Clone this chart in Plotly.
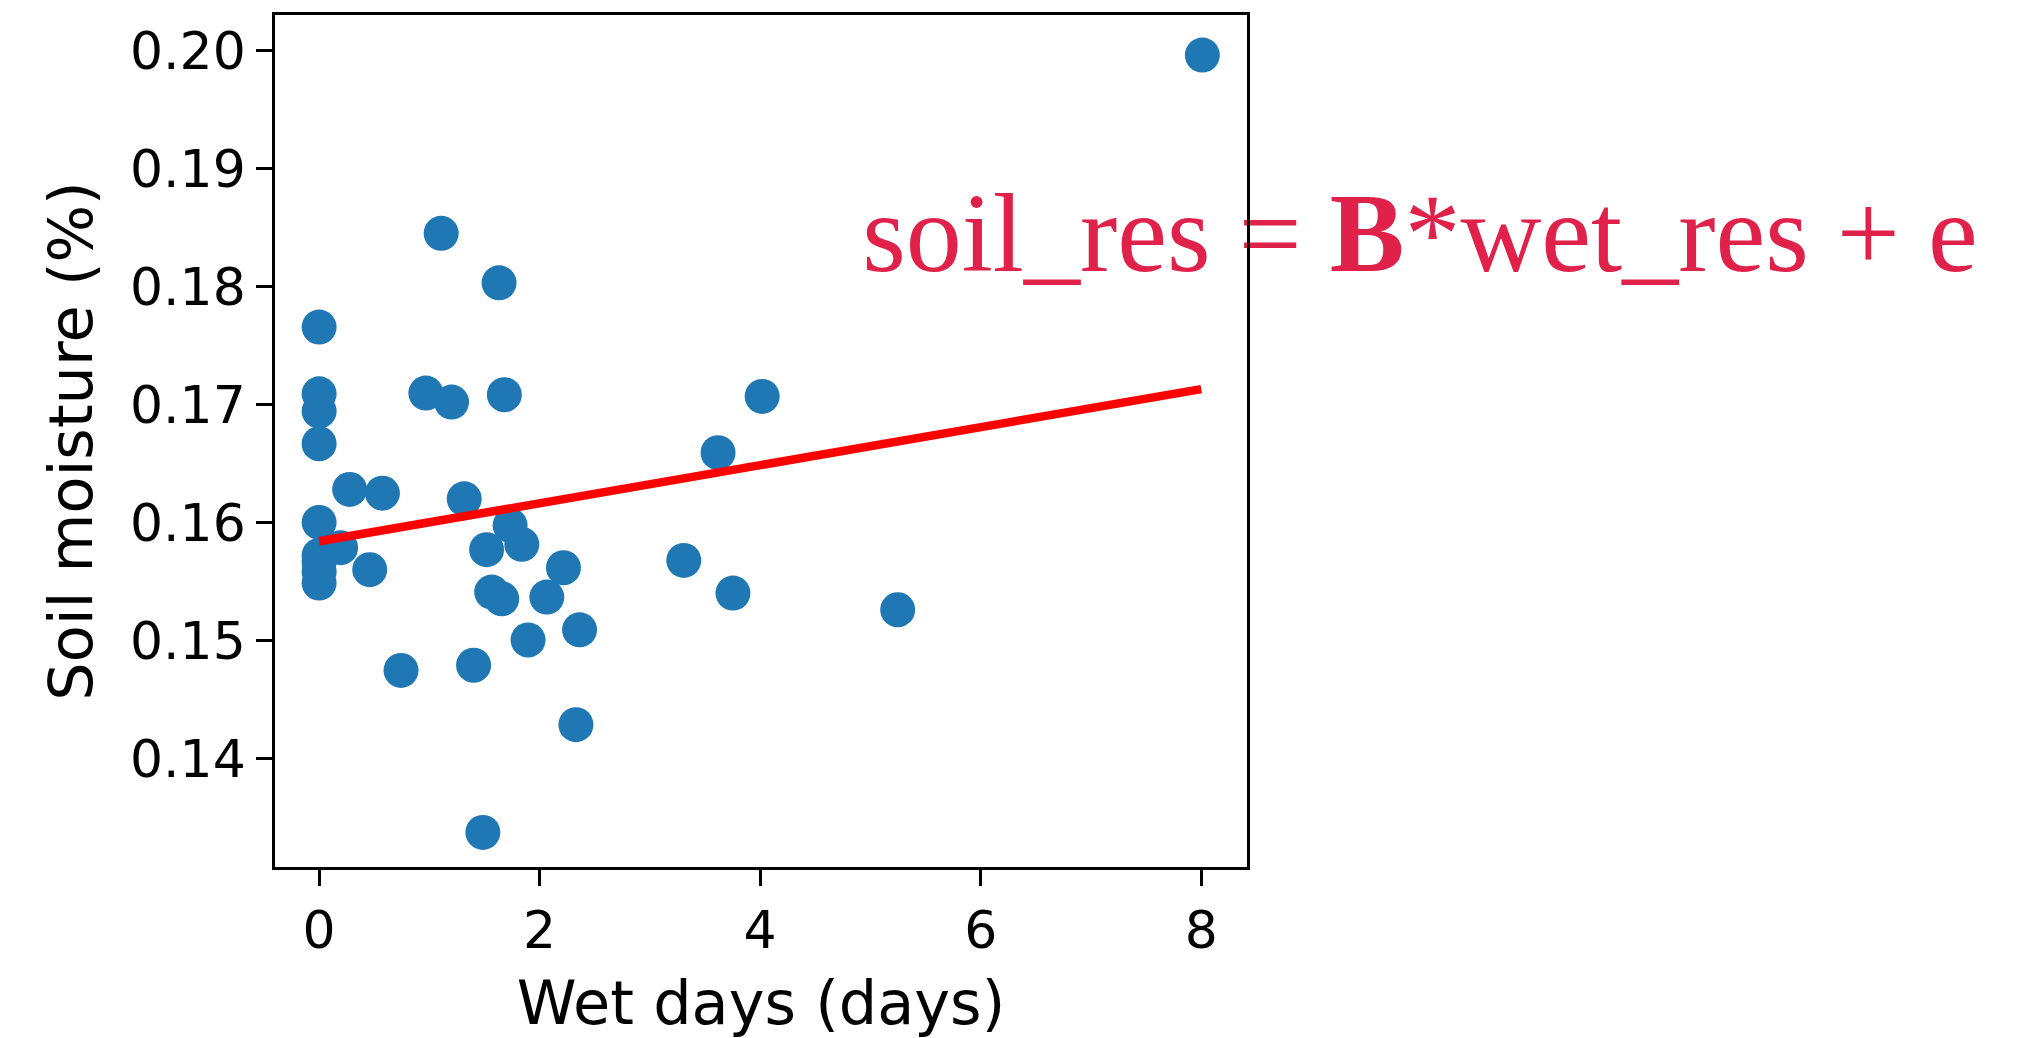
import plotly.graph_objects as go

# Scatter data (wet days vs soil moisture)
wet_days = [8.01, 1.107, 1.632, 0.0, 0.0, 0.0, 0.0, 0.968, 1.201, 1.68, 4.018, 3.618,
            0.277, 0.574, 1.316, 0.0, 0.195, 0.0, 0.0, 0.0, 0.0, 0.459, 1.732, 1.519,
            1.838, 2.216, 3.307, 1.565, 1.656, 2.065, 3.753, 5.247, 1.895, 2.362,
            0.743, 1.401, 2.329, 1.485]
soil_moisture = [0.1996, 0.1845, 0.1803, 0.17655, 0.1709, 0.16943, 0.16667, 0.17096,
                 0.1702, 0.17082, 0.17068, 0.16591, 0.1628, 0.16248, 0.1620, 0.1600,
                 0.15786, 0.1572, 0.1566, 0.1558, 0.15486, 0.1560, 0.15975, 0.15769,
                 0.15814, 0.15616, 0.15678, 0.1541, 0.15353, 0.15367, 0.15401, 0.1526,
                 0.15004, 0.1509, 0.14746, 0.1479, 0.14286, 0.13373]

# Fitted line endpoints
fit_x = [0.0, 8.0]
fit_y = [0.1584, 0.1713]

x_ticks = [0, 2, 4, 6, 8]
y_ticks = [0.14, 0.15, 0.16, 0.17, 0.18, 0.19, 0.20]
y_tick_labels = ["0.14", "0.15", "0.16", "0.17", "0.18", "0.19", "0.20"]

equation_text = "soil_res = <b>B</b>*wet_res + e"
equation_pos = (4.925, 0.1837)

fig = go.Figure()
fig.add_trace(go.Scatter(
    x=wet_days, y=soil_moisture, mode="markers",
    marker=dict(size=35, color="#1f77b4", line=dict(width=0)),
    showlegend=False, hoverinfo="skip"))
fig.add_trace(go.Scatter(
    x=fit_x, y=fit_y, mode="lines",
    line=dict(color="#ff0000", width=8.5),
    showlegend=False, hoverinfo="skip"))
fig.add_trace(go.Scatter(
    x=[equation_pos[0]], y=[equation_pos[1]], mode="text",
    text=[equation_text], textposition="middle right",
    textfont=dict(family="Liberation Serif", size=112, color="#E0224B"),
    cliponaxis=False, showlegend=False, hoverinfo="skip"))

axis_common = dict(
    showline=True, linecolor="black", linewidth=2.7, mirror=True,
    ticks="outside", ticklen=16, tickwidth=2.7, tickcolor="black",
    showgrid=False, zeroline=False,
    tickfont=dict(family="DejaVu Sans", size=52, color="black"),
)

fig.update_layout(
    width=2030, height=1038,
    margin=dict(l=275, r=783, t=15, b=171, pad=0),
    paper_bgcolor="white", plot_bgcolor="white",
    xaxis=dict(range=[-0.4, 8.415], tickvals=x_ticks,
               title=dict(text="Wet days (days)",
                          font=dict(family="DejaVu Sans", size=60.5, color="black"),
                          standoff=24),
               **axis_common),
    yaxis=dict(range=[0.1308, 0.2030], tickvals=y_ticks, ticktext=y_tick_labels,
               title=dict(text="Soil moisture (%)",
                          font=dict(family="DejaVu Sans", size=60.5, color="black"),
                          standoff=18),
               **axis_common),
)

fig.write_html("out.html")
